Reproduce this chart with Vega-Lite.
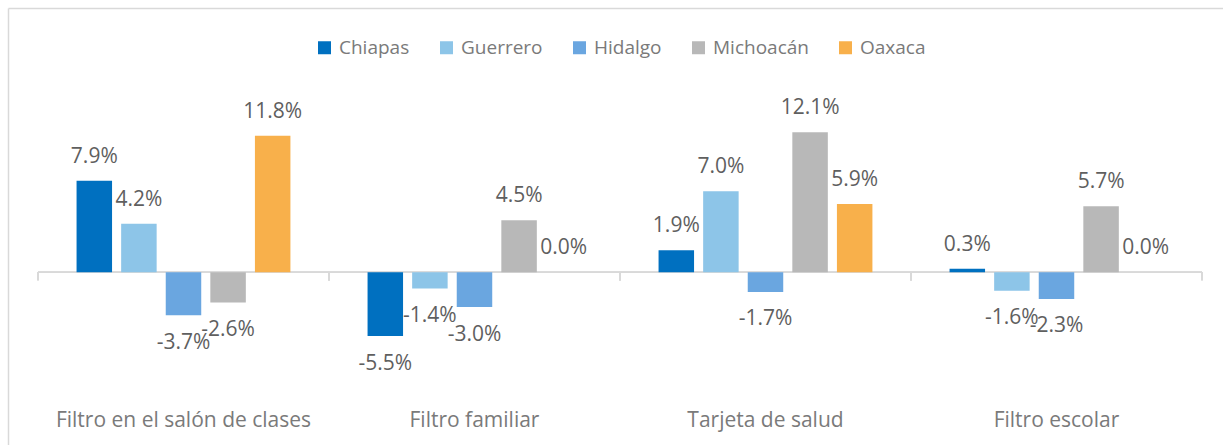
{
  "$schema": "https://vega.github.io/schema/vega-lite/v6.json",
  "width": 1215,
  "height": 437,
  "autosize": {"type": "none"},
  "padding": {"left": 8, "top": 8, "right": 0, "bottom": 0},
  "background": "white",
  "config": {
    "view": {"stroke": null},
    "font": "Open Sans",
    "locale": {"number": {"decimal": ".", "thousands": ",", "grouping": [3], "currency": ["$", ""], "minus": "-", "percent": "%"}}
  },
  "data": {
    "values": [
      {"categoria": "Filtro en el salón de clases", "estado": "Chiapas", "valor": 0.079},
      {"categoria": "Filtro en el salón de clases", "estado": "Guerrero", "valor": 0.042},
      {"categoria": "Filtro en el salón de clases", "estado": "Hidalgo", "valor": -0.037},
      {"categoria": "Filtro en el salón de clases", "estado": "Michoacán", "valor": -0.026},
      {"categoria": "Filtro en el salón de clases", "estado": "Oaxaca", "valor": 0.118},
      {"categoria": "Filtro familiar", "estado": "Chiapas", "valor": -0.055},
      {"categoria": "Filtro familiar", "estado": "Guerrero", "valor": -0.014},
      {"categoria": "Filtro familiar", "estado": "Hidalgo", "valor": -0.030},
      {"categoria": "Filtro familiar", "estado": "Michoacán", "valor": 0.045},
      {"categoria": "Filtro familiar", "estado": "Oaxaca", "valor": 0.000},
      {"categoria": "Tarjeta de salud", "estado": "Chiapas", "valor": 0.019},
      {"categoria": "Tarjeta de salud", "estado": "Guerrero", "valor": 0.070},
      {"categoria": "Tarjeta de salud", "estado": "Hidalgo", "valor": -0.017},
      {"categoria": "Tarjeta de salud", "estado": "Michoacán", "valor": 0.121},
      {"categoria": "Tarjeta de salud", "estado": "Oaxaca", "valor": 0.059},
      {"categoria": "Filtro escolar", "estado": "Chiapas", "valor": 0.003},
      {"categoria": "Filtro escolar", "estado": "Guerrero", "valor": -0.016},
      {"categoria": "Filtro escolar", "estado": "Hidalgo", "valor": -0.023},
      {"categoria": "Filtro escolar", "estado": "Michoacán", "valor": 0.057},
      {"categoria": "Filtro escolar", "estado": "Oaxaca", "valor": 0.000}
    ]
  },
  "resolve": {"axis": {"x": "independent"}},
  "layer": [
    {
      "mark": {"type": "bar", "fill": null, "fillOpacity": 0, "stroke": "#d9d9d9", "strokeWidth": 1.5},
      "encoding": {
        "x": {
          "field": "categoria", "type": "nominal",
          "sort": ["Filtro en el salón de clases", "Filtro familiar", "Tarjeta de salud", "Filtro escolar"],
          "scale": {"paddingInner": 0, "paddingOuter": 0.08763, "align": 0.588},
          "axis": {"orient": "top", "domain": true, "domainColor": "#d9d9d9", "domainWidth": 1.5, "labels": false, "ticks": false, "grid": false, "title": null}
        },
        "y": {"datum": 0, "type": "quantitative",
          "scale": {"domain": [-0.1491, 0.2282], "nice": false, "zero": false},
          "axis": {"orient": "left", "domain": true, "domainColor": "#d9d9d9", "domainWidth": 1.5, "labels": false, "ticks": false, "grid": false, "title": null}},
        "y2": {"datum": 0}
      }
    },
    {
      "mark": {"type": "rule", "stroke": "#d9d9d9", "strokeWidth": 1.5},
      "encoding": {
        "x": {"field": "categoria", "type": "nominal", "bandPosition": 0, "axis": null,
          "sort": ["Filtro en el salón de clases", "Filtro familiar", "Tarjeta de salud", "Filtro escolar"]},
        "y": {"datum": 0, "type": "quantitative",
          "axis": {"orient": "left", "domain": true, "domainColor": "#d9d9d9", "domainWidth": 1.5, "labels": false, "ticks": false, "grid": false, "title": null}},
        "y2": {"datum": -0.0069}
      }
    },
    {
      "mark": {"type": "rule", "stroke": "#d9d9d9", "strokeWidth": 1.5},
      "encoding": {
        "x": {"field": "categoria", "type": "nominal", "bandPosition": 1, "axis": null,
          "sort": ["Filtro en el salón de clases", "Filtro familiar", "Tarjeta de salud", "Filtro escolar"]},
        "y": {"datum": 0, "type": "quantitative",
          "axis": {"orient": "left", "domain": true, "domainColor": "#d9d9d9", "domainWidth": 1.5, "labels": false, "ticks": false, "grid": false, "title": null}},
        "y2": {"datum": -0.0069}
      }
    },
    {
      "mark": {"type": "bar"},
      "encoding": {
        "x": {
          "field": "categoria", "type": "nominal",
          "sort": ["Filtro en el salón de clases", "Filtro familiar", "Tarjeta de salud", "Filtro escolar"],
          "axis": {"orient": "bottom", "offset": -38, "domain": false, "ticks": false, "grid": false, "title": null,
            "labelAngle": 0, "labelFontSize": 21, "labelColor": "#7a7a7a", "labelPadding": 2, "labelFont": "Open Sans", "labelLimit": 0}
        },
        "xOffset": {"field": "estado", "type": "nominal",
          "sort": ["Chiapas", "Guerrero", "Hidalgo", "Michoacán", "Oaxaca"],
          "scale": {"paddingInner": 0.204, "paddingOuter": 0.865}},
        "y": {"field": "valor", "type": "quantitative",
          "axis": {"orient": "left", "domain": true, "domainColor": "#d9d9d9", "domainWidth": 1.5, "labels": false, "ticks": false, "grid": false, "title": null}},
        "color": {
          "field": "estado", "type": "nominal",
          "scale": {"domain": ["Chiapas", "Guerrero", "Hidalgo", "Michoacán", "Oaxaca"],
            "range": ["#0070C0", "#8DC5E8", "#6AA6E0", "#B8B8B8", "#F8B04B"]},
          "legend": {"orient": "none", "legendX": 307, "legendY": 30, "direction": "horizontal", "columns": 5,
            "title": null, "symbolType": "square", "symbolSize": 169, "symbolStrokeWidth": 0,
            "labelFontSize": 19, "labelColor": "#7a7a7a", "labelFont": "Open Sans", "labelOffset": 5, "columnPadding": 27}
        }
      }
    },
    {
      "transform": [{"filter": "datum.valor >= 0"}],
      "mark": {"type": "text", "baseline": "middle", "align": "center", "dy": -24, "fontSize": 21, "color": "#5f5f5f", "font": "Open Sans"},
      "encoding": {
        "x": {"field": "categoria", "type": "nominal", "axis": null,
          "sort": ["Filtro en el salón de clases", "Filtro familiar", "Tarjeta de salud", "Filtro escolar"]},
        "xOffset": {"field": "estado", "type": "nominal", "sort": ["Chiapas", "Guerrero", "Hidalgo", "Michoacán", "Oaxaca"]},
        "y": {"field": "valor", "type": "quantitative",
          "axis": {"orient": "left", "domain": true, "domainColor": "#d9d9d9", "domainWidth": 1.5, "labels": false, "ticks": false, "grid": false, "title": null}},
        "text": {"field": "valor", "type": "quantitative", "format": ".1%"}
      }
    },
    {
      "transform": [{"filter": "datum.valor < 0"}],
      "mark": {"type": "text", "baseline": "middle", "align": "center", "dy": 27.5, "fontSize": 21, "color": "#5f5f5f", "font": "Open Sans"},
      "encoding": {
        "x": {"field": "categoria", "type": "nominal", "axis": null,
          "sort": ["Filtro en el salón de clases", "Filtro familiar", "Tarjeta de salud", "Filtro escolar"]},
        "xOffset": {"field": "estado", "type": "nominal", "sort": ["Chiapas", "Guerrero", "Hidalgo", "Michoacán", "Oaxaca"]},
        "y": {"field": "valor", "type": "quantitative",
          "axis": {"orient": "left", "domain": true, "domainColor": "#d9d9d9", "domainWidth": 1.5, "labels": false, "ticks": false, "grid": false, "title": null}},
        "text": {"field": "valor", "type": "quantitative", "format": ".1%"}
      }
    }
  ]
}
